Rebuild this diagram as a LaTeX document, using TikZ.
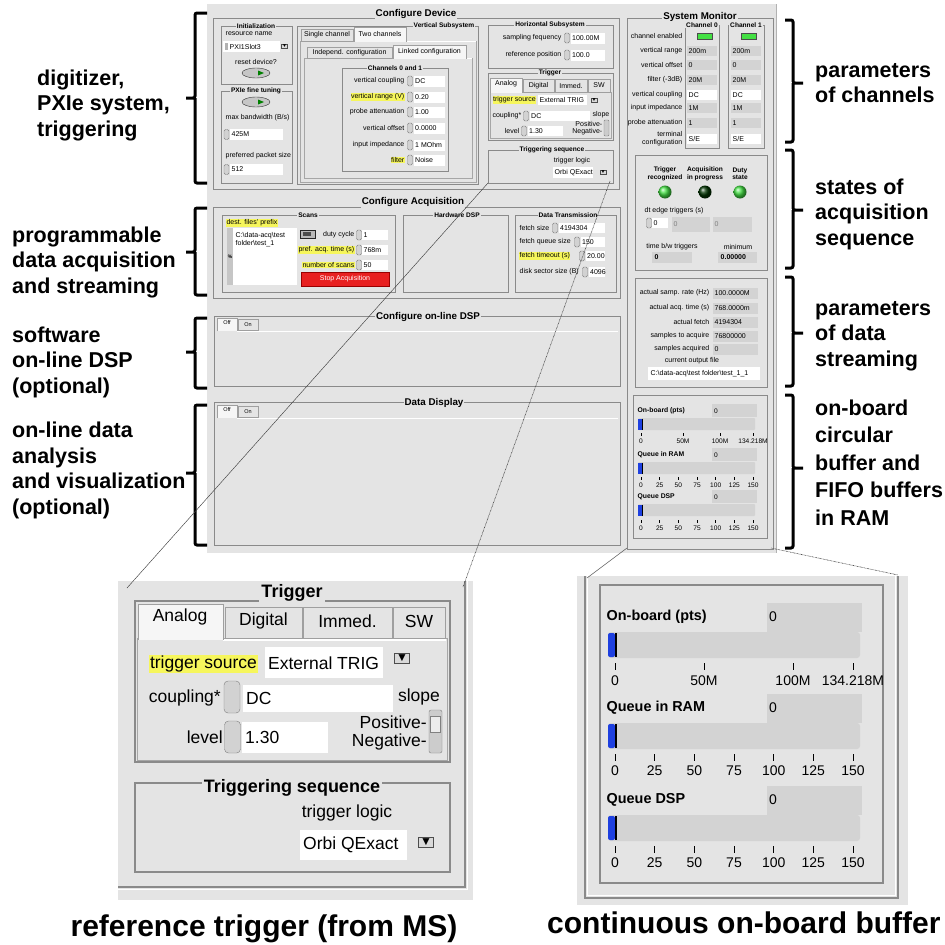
\documentclass[tikz,border=0pt]{standalone}
\usepackage{fontspec}
\setmainfont{Liberation Sans}
\definecolor{panel}{HTML}{E4E4E4}
\definecolor{fieldg}{HTML}{D3D3D3}
\definecolor{frameg}{HTML}{8A8A8A}
\definecolor{hlyel}{HTML}{F6F65C}
\definecolor{ledon}{HTML}{44E044}
\definecolor{stopred}{HTML}{E82020}
\definecolor{barblue}{HTML}{1E40E0}

\begin{document}
\begin{tikzpicture}[x=1pt,y=-1pt,
    side/.style={font=\fontsize{21.5}{25.5}\selectfont\bfseries,align=left,anchor=west,inner sep=0pt},
    captxt/.style={font=\fontsize{30}{32}\selectfont\bfseries,inner sep=0pt},
    brace/.style={line width=3pt,rounded corners=2pt},
    grp/.style={draw=frameg,line width=0.9pt},
    txt/.style={font=\fontsize{7}{8}\selectfont,inner sep=0.5pt},
    tbold/.style={font=\fontsize{7}{8}\selectfont\bfseries,inner sep=0.5pt},
    hl/.style={txt,fill=hlyel},
    tabtxt/.style={font=\fontsize{5.5}{6}\selectfont,inner sep=0pt},
    sttl/.style={font=\fontsize{6.6}{7}\selectfont\bfseries,fill=panel,inner sep=1pt},
    bttl/.style={font=\fontsize{9.8}{10}\selectfont\bfseries,fill=panel,inner sep=1pt},
    spin/.style={draw=gray,fill=gray!35,rounded corners=1.5pt,minimum width=5pt,minimum height=10pt,inner sep=0pt},
    drop/.style={draw=gray!60!black,fill=gray!30,inner sep=0.4pt,font=\fontsize{5}{5}\selectfont},
    tab/.style={draw=gray!75,fill=panel},
    seltab/.style={draw=gray!75,fill=gray!7},
    sbold/.style={font=\fontsize{6.8}{7}\selectfont\bfseries,inner sep=0.5pt},
    stick/.style={font=\fontsize{6.6}{7}\selectfont,inner sep=0pt},
    ingrp/.style={draw=frameg,line width=1.6pt},
    itxt/.style={font=\fontsize{17.5}{19}\selectfont,inner sep=1pt},
    ittl/.style={font=\fontsize{18}{19}\selectfont\bfseries,fill=panel,inner sep=2pt},
    itab/.style={draw=gray!75,fill=panel,line width=0.8pt},
    iseltab/.style={draw=gray!75,fill=gray!7,line width=0.8pt},
    ispin/.style={draw=gray,fill=gray!35,rounded corners=4pt,minimum width=16pt,minimum height=32pt,inner sep=0pt},
    idrop/.style={draw=gray!60!black,fill=gray!30,inner sep=1.5pt,font=\fontsize{12}{12}\selectfont},
    btxt/.style={font=\fontsize{14}{15}\selectfont,inner sep=0pt},
    bbold/.style={font=\fontsize{14.4}{15}\selectfont\bfseries,inner sep=0.5pt},
    zoomln/.style={gray!50!black,line width=0.45pt},
    dotln/.style={gray!50!black,line width=0.6pt,dash pattern=on 0.7pt off 0.7pt}]
\useasboundingbox (0,0) rectangle (945,945);
\fill[white] (0,0) rectangle (945,945);

\fill[panel] (207,4) rectangle (777,553);
\draw[gray!60] (776,4) -- (776,553);

\draw[grp] (213,18) rectangle (619,189);
\node[bttl] (cfgdev) at (416,14) {Configure Device};

\draw[grp] (221,26) rectangle (292,84);
\node[sttl] (init) at (256,26) {Initialization};
\node[txt,anchor=west] (resname) at (225,34) {resource name};
\fill[white] (223,41) rectangle (280,52);
\fill[gray!60] (224.5,43) rectangle (227.5,50);
\node[txt,anchor=west] (resval) at (229,46.5) {PXI1Slot3};
\node[drop] (resdrop) at (284.5,46.5) {▼};
\node[txt] (reset) at (256,62) {reset device?};
\draw[draw=gray!40!black,fill=gray!45] (256,73) ellipse (14pt and 5pt);
\fill[green!50!black] (258,70.5) -- (264,73) -- (258,75.5) -- cycle;

\draw[grp] (221,91) rectangle (292,183);
\node[sttl] (pxie) at (256,91) {PXIe fine tuning};
\draw[draw=gray!40!black,fill=gray!45] (256,102) ellipse (14pt and 5pt);
\fill[green!50!black] (258,99.5) -- (264,102) -- (258,104.5) -- cycle;
\node[txt,anchor=west] (maxbw) at (225,118) {max bandwidth (B/s)};
\node[spin] at (226.5,134.5) {};
\fill[white] (230,129) rectangle (283,140);
\node[txt,anchor=west] (maxbwval) at (231,134.5) {425M};
\node[txt,anchor=west] (pkt) at (225,156) {preferred packet size};
\node[spin] at (226.5,169.5) {};
\fill[white] (230,164) rectangle (283,175);
\node[txt,anchor=west] (pktval) at (231,169.5) {512};

\draw[grp] (297,26) rectangle (478,184);
\node[sttl] (vert) at (444,26) {Vertical Subsystem};
\draw[draw=gray!70,fill=panel] (300,41) rectangle (476,182);
\draw[white,line width=1pt] (406,41.5) -- (475.5,41.5);
\draw[tab] (301,29) rectangle (353,41);
\node[txt] at (327,35) {Single channel};
\filldraw[seltab] (354,41.5) -- (354,27) -- (406,27) -- (406,41.5);
\node[txt] at (380,34) {Two channels};
\draw[draw=gray!70,fill=panel] (304,58) rectangle (472,178);
\draw[white,line width=1pt] (466,58.5) -- (471.5,58.5);
\draw[tab] (307,47) rectangle (392,58);
\node[txt] at (349.5,52.5) {Independ. configuration};
\filldraw[seltab] (393,58.5) -- (393,45) -- (466,45) -- (466,58.5);
\node[txt] at (429.5,51.5) {Linked configuration};
\draw[grp] (342,68) rectangle (448,171);
\node[sttl] (chan01) at (395,68) {Channels 0 and 1};
\foreach \y/\l/\v/\s in {81/vertical coupling/DC/txt,97/vertical range (V)/0.20/hl,
    112/probe attenuation/1.00/txt,128/vertical offset/0.0000/txt,
    145/input impedance/1 MOhm/txt,160/filter/Noise/hl}{
  \node[\s,anchor=east] at (405,\y) {\l};
  \node[spin] at (410,\y) {};
  \fill[white] (413.5,\y-5.5) rectangle (445,\y+5.5);
  \node[txt,anchor=west] at (414.5,\y) {\v};
}

\draw[grp] (488,25) rectangle (613,68);
\node[sttl] (horiz) at (550,25) {Horizontal Subsystem};
\foreach \y/\l/\v in {38/sampling fequency/100.00M,55/reference position/100.0}{
  \node[txt,anchor=east] at (562,\y) {\l};
  \node[spin] at (567,\y) {};
  \fill[white] (570.5,\y-5.5) rectangle (605,\y+5.5);
  \node[txt,anchor=west] at (571.5,\y) {\v};
}

\draw[grp] (488,73) rectangle (613,140);
\node[sttl] (trig) at (550,73) {Trigger};
\draw[draw=gray!70,fill=panel] (490,92) rectangle (611,138);
\draw[white,line width=1pt] (522,92.5) -- (610.5,92.5);
\foreach \a/\b/\t in {523/554/Digital,555/587/Immed.,588/610/SW}{
  \draw[tab] (\a,79) rectangle (\b,92);
  \node[txt] at ({(\a+\b)/2},85.5) {\t};
}
\filldraw[seltab] (490,92.5) -- (490,78) -- (522,78) -- (522,92.5);
\node[txt] at (506,84) {Analog};
\node[hl] (trigsrc) at (514.5,100) {trigger source};
\fill[white] (538,95) rectangle (587,105);
\node[txt,anchor=west] at (539,100) {External TRIG};
\node[drop] at (594,100) {▼};
\node[txt,anchor=east] at (522,116) {coupling*};
\node[spin] at (526,116) {};
\fill[white] (529.5,111) rectangle (590,121);
\node[txt,anchor=west] at (530.5,116) {DC};
\node[txt] at (601,115) {slope};
\node[txt,anchor=east] at (520,131) {level};
\node[spin] at (524,131) {};
\fill[white] (527.5,126) rectangle (563,136);
\node[txt,anchor=west] at (528.5,131) {1.30};
\node[txt,anchor=east] at (603,124) {Positive-};
\node[txt,anchor=east] at (603,132) {Negative-};
\draw[fill=gray!40,draw=gray,rounded corners=1pt] (604,120) rectangle (609,136);

\draw[grp] (488,150) rectangle (613,183);
\node[sttl] (trigseq) at (552,150) {Triggering sequence};
\node[txt] at (572,161) {trigger logic};
\fill[white] (553,167) rectangle (593,178);
\node[txt,anchor=west] at (554,172.5) {Orbi QExact};
\node[drop] at (603,172) {▼};

\draw[grp] (627,18) rectangle (773,549);
\node[bttl] (sysmon) at (700,17) {System Monitor};
\draw[grp] (685,25) rectangle (719,148);
\node[sttl] at (702,25) {Channel 0};
\draw[grp] (728,25) rectangle (764,148);
\node[sttl] at (746,25) {Channel 1};
\foreach \y/\l in {36/channel enabled,51/vertical range,65/vertical offset,80/filter (-3dB),
    95/vertical coupling,108/input impedance,123/probe attenuation}
  \node[txt,anchor=east] at (683,\y) {\l};
\node[txt,anchor=east,align=right] at (683,139) {terminal\\configuration};
\foreach \x in {687,731}{
  \draw[fill=ledon,draw=gray!60!black] (\x+10,33) rectangle (\x+25,39);
  \foreach \y/\v/\c in {51/200m/fieldg,65/0/fieldg,80/20M/fieldg,95/DC/white,
      108/1M/fieldg,123/1/fieldg,139/S\slash E/white}{
    \fill[\c] (\x,\y-5) rectangle (\x+30,\y+5);
    \node[txt,anchor=west] at (\x+1,\y) {\v};
  }
}

\draw[grp] (635,155) rectangle (767,270);
\foreach \x/\t/\c in {665/Trigger\\recognized/ledon,705/Acquisition\\in progress/green!20!black,740/Duty\\state/ledon}{
  \node[tbold,font=\fontsize{6.6}{7.5}\selectfont\bfseries,align=center] at (\x,174) {\t};
  \shade[ball color=\c] (\x,192) circle (6.5pt);
}
\node[txt,anchor=west] at (644,211) {dt edge triggers (s)};
\node[spin] at (649,223) {};
\fill[white] (652,218) rectangle (668,228);
\node[txt,anchor=west] at (653,223) {0};
\fill[fieldg] (672,217) rectangle (710,232);
\fill[fieldg] (713,217) rectangle (752,232);
\node[txt,anchor=west,gray] at (673,224.5) {0};
\node[txt,anchor=west,gray] at (714,224.5) {0};
\node[txt] at (672,247) {time b/w triggers};
\node[txt] at (738,247) {minimum};
\fill[fieldg] (652,252) rectangle (692,263);
\node[tbold,anchor=west] at (654,257.5) {0};
\fill[fieldg] (718,252) rectangle (757,263);
\node[tbold,anchor=west] at (720,257.5) {0.00000};

\draw[grp] (635,278) rectangle (767,387);
\foreach \y/\l/\v in {293/actual samp. rate (Hz)/100.0000M,308/actual acq. time (s)/768.0000m,
    322/actual fetch/4194304,336/samples to acquire/76800000,349/samples acquired/0}{
  \node[txt,anchor=east] at (710,\y) {\l};
  \fill[fieldg] (713,\y-5.5) rectangle (758,\y+5.5);
  \node[txt,anchor=west] at (714,\y) {\v};
}
\node[txt] at (692,361) {current output file};
\fill[white] (648,367) rectangle (760,380);
\node[txt,anchor=west] at (650,373.5) {C:\textbackslash data-acq\textbackslash test folder\textbackslash test\_1\_1};

\draw[grp] (633,395) rectangle (767,538);
\foreach \Y/\t in {411/On-board (pts),455/Queue in RAM,497/Queue DSP}{
  \node[sbold,anchor=west] at (637,\Y) {\t};
  \fill[fieldg] (712,\Y-7) rectangle (757,\Y+6);
  \node[stick,anchor=west] at (714,\Y) {0};
  \fill[fieldg,rounded corners=1pt] (638,\Y+7) rectangle (755,\Y+19);
  \fill[barblue] (638,\Y+7.5) rectangle (641.5,\Y+18.5);
  \draw[line width=0.8pt] (642,\Y+7.5) -- (642,\Y+18.5);
}
\foreach \x/\t in {641/0,683/50M,720/100M,753/134.218M}{
  \draw[line width=0.4pt] (\x,433) -- (\x,436);
  \node[stick] at (\x,441) {\t};
}
\foreach \Y in {477,520}
  \foreach \v [count=\k from 0] in {0,25,50,75,100,125,150}{
    \draw[line width=0.4pt] ({641+18.67*\k},\Y) -- ({641+18.67*\k},\Y+3);
    \node[stick] at ({641+18.67*\k},\Y+8) {\v};
  }

\draw[grp] (213,207) rectangle (620,298);
\node[bttl] (cfgacq) at (413,202) {Configure Acquisition};
\draw[grp] (222,215) rectangle (395,292);
\node[sttl] (scans) at (308,215) {Scans};
\node[hl] at (252,223) {dest. files' prefix};
\fill[white] (227,228) rectangle (297,285);
\fill[gray!45] (227,228) rectangle (233,285);
\node[font=\fontsize{5}{5}\selectfont\bfseries,inner sep=0pt] at (230,257) {\%};
\node[txt,anchor=west] at (235,236) {C:\textbackslash data-acq\textbackslash test};
\node[txt,anchor=west] at (235,244) {folder\textbackslash test\_1};
\draw[fill=gray!55,draw=gray!30!black] (300,230) rectangle (315,238);
\fill[black!70] (303,232) rectangle (311,236);
\foreach \y/\l/\v/\s in {235/duty cycle/1/txt,250/pref. acq. time (s)/768m/hl,265/number of scans/50/hl}{
  \node[\s,anchor=east] at (355,\y) {\l};
  \node[spin] at (359,\y) {};
  \fill[white] (362,\y-5) rectangle (388,\y+5);
  \node[txt,anchor=west] at (363,\y) {\v};
}
\filldraw[fill=stopred,draw=red!60!black] (301,272) rectangle (389,286);
\node[txt,white] (stop) at (345,279) {Stop Acquisition};
\draw[grp] (403,215) rectangle (508,292);
\node[sttl] (hwdsp) at (457,215) {Hardware DSP};
\draw[grp] (515,215) rectangle (616,292);
\node[sttl] (datatx) at (568,215) {Data Transmission};
\foreach \y/\l/\sx/\v/\s in {228/fetch size/555/4194304/txt,242/fetch queue size/577/150/txt,
    256/fetch timeout (s)/582/20.00/hl,272/disk sector size (B)/585/4096/txt}{
  \node[\s,anchor=west] at (519,\y) {\l};
  \node[spin] at (\sx,\y) {};
  \fill[white] (\sx+3.5,\y-5) rectangle (605,\y+5);
  \node[txt,anchor=west] at (\sx+4.5,\y) {\v};
}

\draw[grp] (214,316) rectangle (620,386);
\node[bttl] (cfgdsp) at (428,317) {Configure on-line DSP};
\draw[white,line width=1pt] (237,331) -- (618,331);
\draw[tab] (238,319) rectangle (258,330);
\node[tabtxt] at (248,324.5) {On};
\filldraw[seltab] (217,331) -- (217,318) -- (237,318) -- (237,331);
\node[tabtxt] at (227,323) {Off};

\draw[grp] (214,402) rectangle (620,545);
\node[bttl] (datadisp) at (434,403) {Data Display};
\draw[white,line width=1pt] (237,418) -- (618,418);
\draw[tab] (238,406) rectangle (258,417);
\node[tabtxt] at (248,411.5) {On};
\filldraw[seltab] (217,418) -- (217,405) -- (237,405) -- (237,418);
\node[tabtxt] at (227,410) {Off};

\foreach \t/\m/\b in {13/98/183,208/252/295,318/352/388,405/473/545}
  \draw[brace] (207,\t) -- (195,\t) -- (195,\m) -- (186,\m) (195,\m) -- (195,\b) -- (207,\b);
\foreach \t/\m/\b in {20/83/142,150/210/268,277/333/386,395/468/548}
  \draw[brace] (785,\t) -- (793,\t) -- (793,\m) -- (803,\m) (793,\m) -- (793,\b) -- (785,\b);

\node[side] (lbdig) at (37,105) {digitizer,\\PXIe system,\\triggering};
\node[side] (lbprog) at (12,262) {programmable\\data acquisition\\and streaming};
\node[side] (lbsoft) at (12,362) {software\\on-line DSP\\(optional)};
\node[side] (lbvis) at (12,470.5) {on-line data\\analysis\\and visualization\\(optional)};
\node[side] (rbchan) at (815,83) {parameters\\of channels};
\node[side] (rbstate) at (815,214) {states of\\acquisition\\sequence};
\node[side] (rbstream) at (815,336) {parameters\\of data\\streaming};
\node[side,font=\fontsize{21.5}{27.5}\selectfont\bfseries] (rbbuf) at (815,462.5) {on-board\\circular\\buffer and\\FIFO buffers\\in RAM};

\fill[panel] (118,581) rectangle (473,900);
\draw[frameg,line width=1.5pt] (465,581) -- (465,887) -- (118,887);
\draw[white,line width=1pt] (467.5,581) -- (467.5,889.5) -- (118,889.5);
\draw[ingrp] (135,601) rectangle (450,762);
\node[ittl] (bigtrig) at (292,593) {Trigger};
\draw[draw=gray!70,fill=panel,line width=0.8pt] (137,638) rectangle (447,760);
\draw[white,line width=2pt] (223,639.5) -- (446,639.5);
\foreach \a/\b/\t in {225/302/Digital,303/392/Immed.,393/445/SW}{
  \draw[itab] (\a,607) rectangle (\b,638);
  \node[itxt] at ({(\a+\b)/2},621) {\t};
}
\filldraw[iseltab] (138,640) -- (138,604) -- (223,604) -- (223,640);
\node[itxt] at (180,617) {Analog};
\node[itxt,fill=hlyel] (bigsrc) at (203.5,664) {trigger source};
\fill[white] (265,647) rectangle (383,678);
\node[itxt,anchor=west] at (267,663) {External TRIG};
\node[idrop] at (402,658) {▼};
\node[itxt,anchor=east] at (222,698) {coupling*};
\node[ispin] at (232,697) {};
\fill[white] (243,685) rectangle (393,712);
\node[itxt,anchor=west] at (245,698) {DC};
\node[itxt] at (419,697) {slope};
\node[itxt,anchor=east] at (224,737) {level};
\node[ispin] at (232.5,737) {};
\fill[white] (242,722) rectangle (328,753);
\node[itxt,anchor=west] at (244,737) {1.30};
\node[itxt,anchor=east] at (428,722) {Positive-};
\node[itxt,anchor=east] at (428,742) {Negative-};
\draw[fill=gray!40,draw=gray,rounded corners=2pt] (429,710) rectangle (442,753);
\draw[fill=gray!15,draw=gray] (430.5,716) rectangle (440.5,732);
\draw[ingrp] (135,783) rectangle (450,872);
\node[ittl] (bigseq) at (292,788) {Triggering sequence};
\node[itxt] at (347,813) {trigger logic};
\fill[white] (300,830) rectangle (407,860);
\node[itxt,anchor=west] at (302,845) {Orbi QExact};
\node[idrop] at (426,842) {▼};
\node[captxt,anchor=base] (captrig) at (264,936) {reference trigger (from MS)};

\fill[panel] (577,576) rectangle (908,905);
\draw[frameg,line width=1.5pt] (585,576) -- (585,898) -- (898,898) -- (898,576);
\draw[white,line width=1pt] (587.5,576) -- (587.5,895.5) -- (895.5,895.5) -- (895.5,576);
\draw[ingrp] (600,585) rectangle (883,883);
\foreach \Y/\t in {617/On-board (pts),708/Queue in RAM,800/Queue DSP}{
  \node[bbold,anchor=west] at (606,\Y) {\t};
  \fill[fieldg] (767,\Y-14) rectangle (862,\Y+15);
  \node[btxt,anchor=west] at (769,\Y) {0};
  \fill[fieldg,rounded corners=3pt] (608,\Y+15) rectangle (860,\Y+41);
  \fill[barblue,rounded corners=2pt] (608,\Y+16) rectangle (615,\Y+40);
  \draw[line width=2pt] (616,\Y+16) -- (616,\Y+40);
}
\foreach \x/\t in {615/0,704/50M,793/100M,853/134.218M}{
  \draw[line width=0.8pt] (\x,663) -- (\x,670);
  \node[btxt] at (\x,681) {\t};
}
\foreach \Y in {754,846}
  \foreach \v [count=\k from 0] in {0,25,50,75,100,125,150}{
    \draw[line width=0.8pt] ({615+39.67*\k},\Y) -- ({615+39.67*\k},\Y+7);
    \node[btxt] at ({615+39.67*\k},\Y+17) {\v};
  }
\node[captxt,anchor=base west] (capbuf) at (547,933) {continuous on-board buffer};

\coordinate (tsbl) at (488,183);
\coordinate (tsbr) at (610,181);
\coordinate (trinl) at (127,588);
\coordinate (trinr) at (463,587);
\coordinate (bufbl) at (627,548);
\coordinate (bufbr) at (771,548);
\coordinate (bufinl) at (587,578);
\coordinate (bufinr) at (898,575);
\draw[zoomln] (tsbl) -- (trinl);
\draw[dotln] (tsbr) -- (trinr);
\draw[zoomln] (bufbl) -- (bufinl);
\draw[dotln] (bufbr) -- (bufinr);
\end{tikzpicture}
\end{document}
